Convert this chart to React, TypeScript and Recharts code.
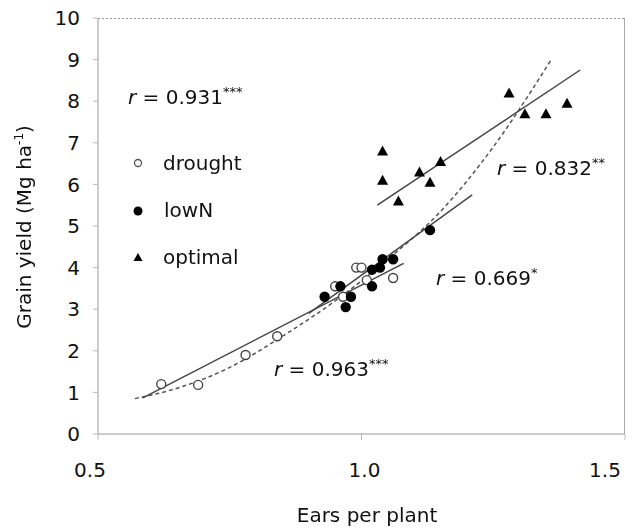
import React from 'react';
import { ScatterChart, Scatter, XAxis, YAxis } from 'recharts';

// points
const drought = [
  { x: 0.62, y: 1.2 }, { x: 0.69, y: 1.18 }, { x: 0.78, y: 1.9 }, { x: 0.84, y: 2.35 },
  { x: 0.95, y: 3.55 }, { x: 0.965, y: 3.3 }, { x: 0.99, y: 4.0 }, { x: 1.0, y: 4.0 },
  { x: 1.01, y: 3.7 }, { x: 1.06, y: 3.75 },
];
const lowN = [
  { x: 0.93, y: 3.3 }, { x: 0.96, y: 3.55 }, { x: 0.97, y: 3.05 }, { x: 0.98, y: 3.3 },
  { x: 1.02, y: 3.55 }, { x: 1.02, y: 3.95 }, { x: 1.035, y: 4.0 }, { x: 1.04, y: 4.2 },
  { x: 1.06, y: 4.2 }, { x: 1.13, y: 4.9 },
];
const optimal = [
  { x: 1.04, y: 6.8 }, { x: 1.04, y: 6.1 }, { x: 1.07, y: 5.6 }, { x: 1.11, y: 6.3 },
  { x: 1.13, y: 6.05 }, { x: 1.15, y: 6.55 }, { x: 1.28, y: 8.2 }, { x: 1.31, y: 7.7 },
  { x: 1.35, y: 7.7 }, { x: 1.39, y: 7.95 },
];

// fitted lines
const fitAll = [{ x: 0.585, y: 0.87 }, { x: 1.08, y: 4.1 }];
const fitLowN = [{ x: 0.9, y: 2.9 }, { x: 1.21, y: 5.75 }];
const fitOptimal = [{ x: 1.03, y: 5.5 }, { x: 1.415, y: 8.75 }];
const fitCurve = [
  { x: 0.57, y: 0.85 }, { x: 0.65, y: 1.1 }, { x: 0.75, y: 1.6 }, { x: 0.85, y: 2.35 },
  { x: 0.95, y: 3.2 }, { x: 1.05, y: 4.2 }, { x: 1.15, y: 5.35 }, { x: 1.25, y: 6.9 },
  { x: 1.36, y: 9.0 },
];

const xTicks = [0.5, 1.0, 1.5];
const yTicks = [0, 1, 2, 3, 4, 5, 6, 7, 8, 9, 10];

const font = 'DejaVu Sans, sans-serif';
const ink = '#111';

const OpenCircle = (p: any) => (
  <circle cx={p.cx} cy={p.cy} r={4.5} fill="#fff" stroke="#444" strokeWidth={1.4} />
);
const FilledCircle = (p: any) => <circle cx={p.cx} cy={p.cy} r={5.2} fill="#000" />;
const Triangle = (p: any) => (
  <path d={`M${p.cx},${p.cy - 5.5}L${p.cx + 5.5},${p.cy + 4.5}L${p.cx - 5.5},${p.cy + 4.5}Z`} fill="#000" />
);
const NoDot = () => <g />;

const xShift: Record<string, number> = { '0.5': -8, '1.0': 3, '1.5': -14 };
const XTick = (p: any) => {
  const label = Number(p.payload.value).toFixed(1);
  return (
    <text x={p.x + (xShift[label] || 0)} y={p.y} dy="0.71em" textAnchor="middle"
      fontFamily={font} fontSize={20} fill={ink}>
      {label}
    </text>
  );
};

const RLabel = ({ x, y, value, stars }: { x: number; y: number; value: string; stars: string }) => (
  <text x={x} y={y} fontFamily={font} fontSize={20} fill={ink}>
    <tspan fontStyle="italic">r</tspan>
    <tspan> = {value}</tspan>
    <tspan fontSize={13} dy={-8}>{stars}</tspan>
  </text>
);

export default function App() {
  return (
    <div style={{ position: 'absolute', left: 0, top: 0, width: 629, height: 531, background: '#fff' }}>
      <ScatterChart width={629} height={531} margin={{ top: 18, right: 4, bottom: 37, left: 0 }}>
        <XAxis type="number" dataKey="x" domain={[0.5, 1.5]} ticks={xTicks} height={60}
          axisLine={{ stroke: '#999' }} tickLine={{ stroke: '#bbb' }} tickSize={6} tickMargin={23}
          tick={<XTick />} allowDataOverflow />
        <YAxis type="number" dataKey="y" domain={[0, 10]} ticks={yTicks} width={98}
          axisLine={{ stroke: '#999' }} tickLine={{ stroke: '#bbb' }} tickSize={5} tickMargin={13}
          tick={{ fontFamily: font, fontSize: 20, fill: ink }} allowDataOverflow />
        <Scatter data={fitCurve} line={{ stroke: '#555', strokeWidth: 1.5, strokeDasharray: '4 3' }}
          lineJointType="monotoneX" shape={NoDot} isAnimationActive={false} />
        <Scatter data={fitAll} line={{ stroke: '#444', strokeWidth: 1.5 }} shape={NoDot} isAnimationActive={false} />
        <Scatter data={fitLowN} line={{ stroke: '#444', strokeWidth: 1.5 }} shape={NoDot} isAnimationActive={false} />
        <Scatter data={fitOptimal} line={{ stroke: '#444', strokeWidth: 1.5 }} shape={NoDot} isAnimationActive={false} />
        <Scatter data={drought} shape={OpenCircle} isAnimationActive={false} />
        <Scatter data={lowN} shape={FilledCircle} isAnimationActive={false} />
        <Scatter data={optimal} shape={Triangle} isAnimationActive={false} />
      </ScatterChart>

      <svg width={629} height={531}
        style={{ position: 'absolute', left: 0, top: 0, pointerEvents: 'none', willChange: 'transform' }}>
        {/* frame: dotted top, plain right */}
        <line x1={98} y1={18.5} x2={625} y2={18.5} stroke="#999" strokeDasharray="2 2" />
        <line x1={624.5} y1={18} x2={624.5} y2={434} stroke="#aaa" />

        <RLabel x={128} y={104} value="0.931" stars="***" />
        <RLabel x={497} y={175} value="0.832" stars="**" />
        <RLabel x={436} y={285} value="0.669" stars="*" />
        <RLabel x={274} y={376} value="0.963" stars="***" />

        {/* legend */}
        <circle cx={138} cy={163} r={3.5} fill="#fff" stroke="#555" strokeWidth={1.3} />
        <text x={163} y={170} fontFamily={font} fontSize={20} fill={ink}>drought</text>
        <circle cx={138} cy={211} r={4.5} fill="#000" />
        <text x={164} y={217} fontFamily={font} fontSize={20} fill={ink}>lowN</text>
        <path d="M138,253L142.5,261L133.5,261Z" fill="#000" />
        <text x={163} y={264} fontFamily={font} fontSize={20} fill={ink}>optimal</text>

        {/* axis titles */}
        <text x={367} y={522} textAnchor="middle" fontFamily={font} fontSize={20} fill={ink}>Ears per plant</text>
        <text transform="translate(31,227) rotate(-90)" textAnchor="middle" fontFamily={font} fontSize={20} fill={ink}>
          Grain yield (Mg ha<tspan fontSize={12} dy={-8}>-1</tspan><tspan dy={8}>)</tspan>
        </text>
      </svg>
    </div>
  );
}
